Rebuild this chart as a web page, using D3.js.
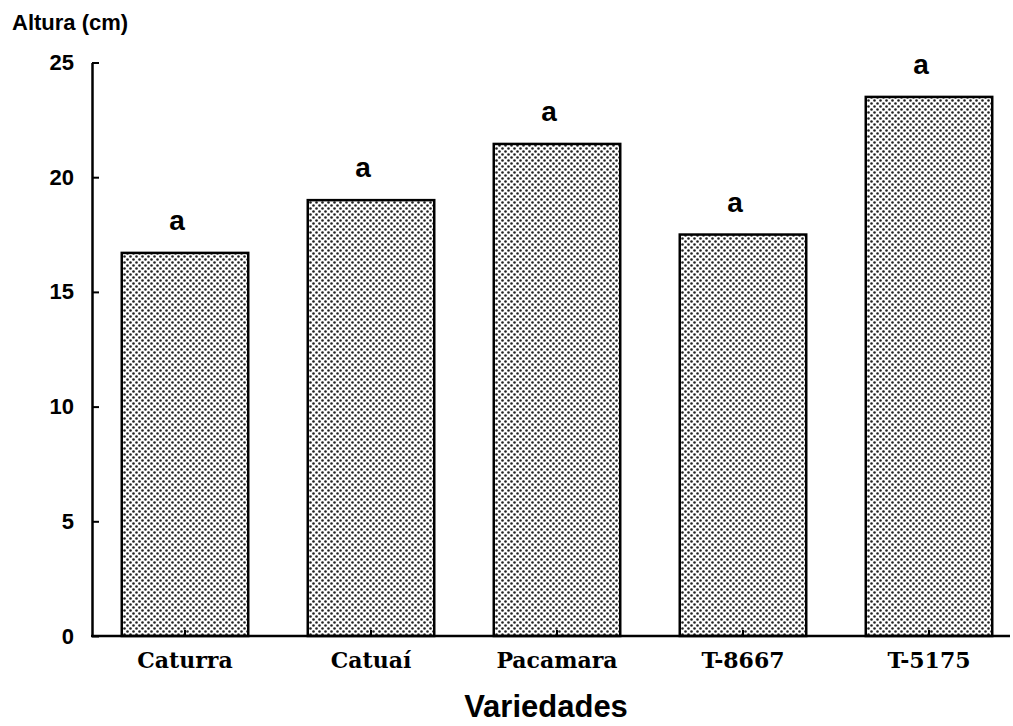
<html>
  <head>
    <meta charset="utf-8" />
    <title>Altura por variedad</title>
    <script src="https://d3js.org/d3.v7.min.js"></script>
    <style>
      body { margin: 0; background: #fff; }
      text { fill: #000; }
    </style>
  </head>
  <body>
    <div id="figure"></div>
    <script type="text/javascript">
      // data
      var varieties = ["Caturra", "Catuaí", "Pacamara", "T-8667", "T-5175"];
      var heights = [16.7, 19.0, 21.45, 17.5, 23.5];
      var letters = ["a", "a", "a", "a", "a"];
      var yTicks = [0, 5, 10, 15, 20, 25];

      var width = 1013;
      var height = 726;

      var svg = d3
        .select("#figure")
        .append("svg")
        .attr("width", width)
        .attr("height", height);

      // halftone dot fill, like the original print
      var pattern = svg
        .append("defs")
        .append("pattern")
        .attr("id", "dots")
        .attr("patternUnits", "userSpaceOnUse")
        .attr("width", 6)
        .attr("height", 6);
      pattern.append("rect").attr("width", 6).attr("height", 6).attr("fill", "#fff");
      pattern.append("circle").attr("cx", 1.5).attr("cy", 1.5).attr("r", 1.3).attr("fill", "#222");
      pattern.append("circle").attr("cx", 4.5).attr("cy", 4.5).attr("r", 1.3).attr("fill", "#222");

      var x = d3
        .scaleBand()
        .domain(varieties)
        .range([92, 1022])
        .paddingInner(0.32)
        .paddingOuter(0.16);

      var y = d3.scaleLinear().domain([0, 25]).range([636, 62.5]);

      var data = varieties.map(function (name, i) {
        return { name: name, value: heights[i], letter: letters[i] };
      });

      // bars
      svg
        .selectAll("rect.bar")
        .data(data)
        .enter()
        .append("rect")
        .attr("class", "bar")
        .attr("x", function (d) { return x(d.name); })
        .attr("y", function (d) { return y(d.value); })
        .attr("width", x.bandwidth())
        .attr("height", function (d) { return y(0) - y(d.value); })
        .attr("fill", "url(#dots)")
        .attr("stroke", "#000")
        .attr("stroke-width", 2.5);

      // significance letters
      svg
        .selectAll("text.letter")
        .data(data)
        .enter()
        .append("text")
        .attr("class", "letter")
        .attr("x", function (d) { return x(d.name) + x.bandwidth() / 2 - 8; })
        .attr("y", function (d) { return y(d.value) - 23; })
        .attr("text-anchor", "middle")
        .style("font-family", "Liberation Sans, Arial, sans-serif")
        .style("font-weight", "bold")
        .style("font-size", "28px")
        .text(function (d) { return d.letter; });

      // y axis, ticks pointing inward
      var yAxis = svg
        .append("g")
        .attr("transform", "translate(92,0)")
        .call(
          d3.axisLeft(y).tickValues(yTicks).tickSizeInner(-7).tickSizeOuter(0).tickPadding(18)
        );
      yAxis.select(".domain").attr("stroke-width", 2.5);
      yAxis.selectAll(".tick line").attr("stroke-width", 2);
      yAxis
        .selectAll("text")
        .style("font-family", "Liberation Sans, Arial, sans-serif")
        .style("font-weight", "bold")
        .style("font-size", "22px");

      // x axis
      var xAxis = svg
        .append("g")
        .attr("transform", "translate(0," + y(0) + ")")
        .call(d3.axisBottom(x).tickSizeInner(-6).tickSizeOuter(0).tickPadding(16));
      xAxis.select(".domain").remove();
      xAxis.selectAll(".tick line").attr("stroke-width", 2);
      xAxis
        .selectAll("text")
        .style("font-family", "DejaVu Serif, serif")
        .style("font-weight", "bold")
        .style("font-size", "22px");

      svg
        .append("line")
        .attr("x1", 91)
        .attr("x2", 1010)
        .attr("y1", y(0))
        .attr("y2", y(0))
        .attr("stroke", "#000")
        .attr("stroke-width", 2.5);

      // titles
      svg
        .append("text")
        .attr("x", 12)
        .attr("y", 30)
        .style("font-family", "Liberation Sans, Arial, sans-serif")
        .style("font-weight", "bold")
        .style("font-size", "22px")
        .text("Altura (cm)");

      svg
        .append("text")
        .attr("x", 546)
        .attr("y", 717)
        .attr("text-anchor", "middle")
        .style("font-family", "Liberation Sans, Arial, sans-serif")
        .style("font-weight", "bold")
        .style("font-size", "31px")
        .text("Variedades");
    </script>
  </body>
</html>
